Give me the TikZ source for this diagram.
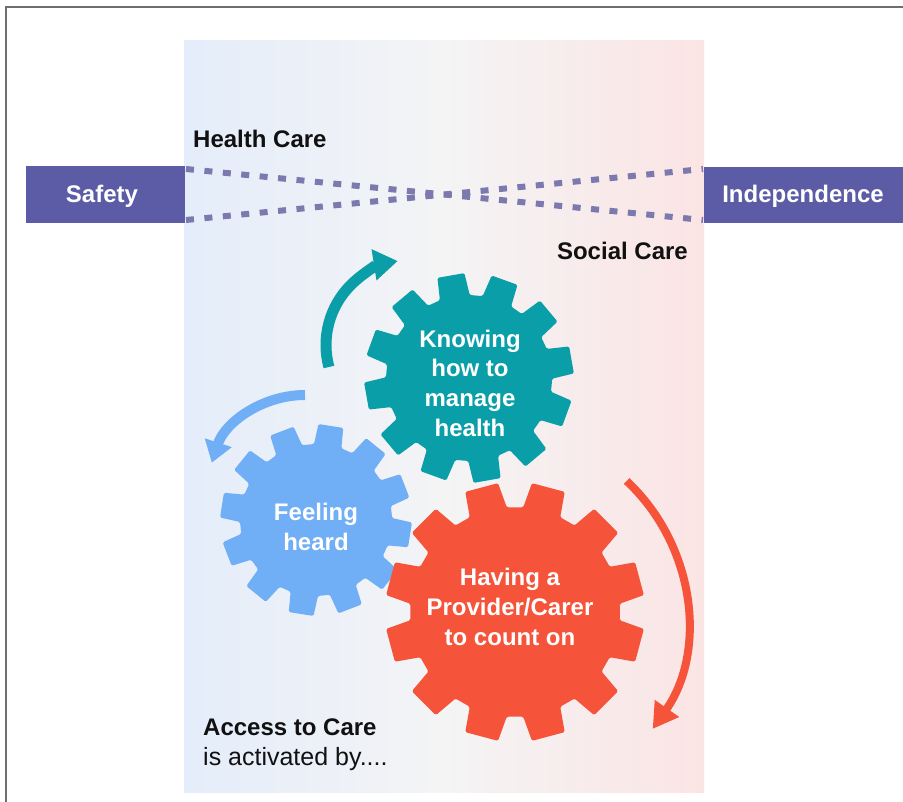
\documentclass[tikz,border=0pt]{standalone}
\usepackage{fontspec}
\setmainfont{Liberation Sans}
\usetikzlibrary{arrows.meta}
\definecolor{boxpurple}{HTML}{5B5BA6}
\definecolor{dotpurple}{HTML}{7B79AE}
\definecolor{gteal}{HTML}{0A9FA8}
\definecolor{gblue}{HTML}{70AEF5}
\definecolor{gred}{HTML}{F5533A}
\definecolor{bgleft}{HTML}{E4EDFA}
\definecolor{bgmid}{HTML}{F4F4F5}
\definecolor{bgright}{HTML}{FBE4E4}
\definecolor{framegray}{HTML}{6E6E6E}
\definecolor{txtblack}{HTML}{111111}

% #1 colour, #2 centre coordinate, #3 teeth, #4 outer radius, #5 root radius, #6 angle of first tooth
\newcommand{\drawgear}[6]{%
  \pgfmathsetmacro{\gp}{360/#3}%
  \pgfmathsetmacro{\gr}{0.35*\gp}%
  \pgfmathsetmacro{\gt}{0.25*\gp}%
  \fill[#1,shift={(#2)},rounded corners=1.5pt] ({#6-\gp/2}:#5)
    \foreach \k in {1,...,#3}{
      -- ({#6+(\k-1)*\gp-\gr}:#5)
      -- ({#6+(\k-1)*\gp-\gt}:#4)
      -- ({#6+(\k-1)*\gp+\gt}:#4)
      -- ({#6+(\k-1)*\gp+\gr}:#5)
    } -- cycle;
}

\tikzset{
  sidebox/.style={fill=boxpurple, inner sep=0pt, anchor=north west},
  sidetext/.style={text=white, font=\bfseries\fontsize{24}{28}\selectfont, anchor=base, inner sep=0pt},
  label/.style={text=txtblack, font=\bfseries\fontsize{24}{28}\selectfont, inner sep=0pt, anchor=base west},
  geartext/.style={text=white, font=\bfseries\fontsize{24}{30}\selectfont, align=center, inner sep=0pt, anchor=base},
  dotline/.style={dotpurple, line width=6pt, dash pattern=on 8pt off 10.5pt},
}

\begin{document}
\begin{tikzpicture}[x=1pt,y=1pt]
\useasboundingbox (0,0) rectangle (903,-802);
\fill[white] (0,0) rectangle (903,-802);
% frame
\draw[framegray, line width=2pt] (6,-802) -- (6,-7) -- (903,-7);
% background panel
\shade[left color=bgleft, right color=bgright, middle color=bgmid] (184,-41) rectangle (704,-792);

% side boxes
\node[sidebox, minimum width=159pt, minimum height=57pt] (safety) at (26,-166) {};
\node[sidetext] (safetyt) at (102,-203) {Safety};
\node[sidebox, minimum width=199pt, minimum height=56pt] (indep) at (704,-167) {};
\node[sidetext] (indept) at (803,-203) {Independence};

% crossing dotted lines
\coordinate (hl) at (186,-169);
\coordinate (hr) at (703,-220);
\coordinate (sl) at (186,-220);
\coordinate (sr) at (703,-169);
\draw[dotline] (hl) -- (hr);
\draw[dotline] (sl) -- (sr);

\node[label] (health) at (193,-148) {Health Care};
\node[label, anchor=base east] (social) at (688,-260) {Social Care};

% gears
\coordinate (gT) at (469,-378);
\coordinate (gB) at (316,-520);
\coordinate (gR) at (515,-612);
\drawgear{gteal}{gT}{12}{105}{83}{10}
\drawgear{gblue}{gB}{12}{96}{76}{21}
\drawgear{gred}{gR}{12}{130}{105}{15}

\node[geartext] (tteal) at (470,-437) {Knowing\\how to\\manage\\health};
\node[geartext] (tblue) at (316,-550) {Feeling\\heard};
\node[geartext] (tred) at (510,-645) {Having a\\Provider/Carer\\to count on};

% rotation arrows
\coordinate (aT) at (328.9,-367);
\draw[gteal, line width=11pt, -{Triangle[width=30pt,length=24pt]}] (aT) arc[start angle=195, end angle=99, radius=85];
\coordinate (aB) at (305,-395);
\draw[gblue, line width=10pt, -{Triangle[width=27pt,length=21pt]}] (aB) arc[start angle=90, end angle=162, radius=98];
\coordinate (aR) at (626.6,-481);
\draw[gred, line width=8pt, -{Triangle[width=28pt,length=25pt]}] (aR) arc[start angle=47, end angle=-35, radius=190];

% caption
\node[label] (access) at (203,-735) {Access to Care};
\node[text=txtblack, font=\fontsize{25}{30}\selectfont, anchor=base west, inner sep=0pt] (activ) at (203,-765) {is activated by....};
\end{tikzpicture}
\end{document}
